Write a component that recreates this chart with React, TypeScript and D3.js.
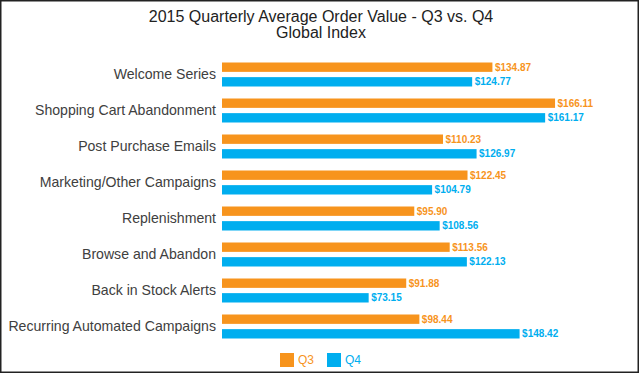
import React from "react";
import * as d3 from "d3";

const categories = [
  "Welcome Series",
  "Shopping Cart Abandonment",
  "Post Purchase Emails",
  "Marketing/Other Campaigns",
  "Replenishment",
  "Browse and Abandon",
  "Back in Stock Alerts",
  "Recurring Automated Campaigns",
];
const q3Values = [134.87, 166.11, 110.23, 122.45, 95.9, 113.56, 91.88, 98.44];
const q4Values = [124.77, 161.17, 126.97, 104.79, 108.56, 122.13, 73.15, 148.42];
const seriesNames = ["Q3", "Q4"];
const seriesColors = ["#F7941D", "#00AEEF"];
const titleLines = ["2015 Quarterly Average Order Value - Q3 vs. Q4", "Global Index"];

const W = 640;
const H = 374;
const FONT = "'Liberation Sans', Arial, Helvetica, sans-serif";

export default function App() {
  const x = d3.scaleLinear().domain([0, 200]).range([222, 623]);
  const y = d3.scaleBand<string>().domain(categories).range([56.5, 344.5]);
  const inner = d3.scaleBand<string>().domain(seriesNames).range([-12, 12]).paddingInner(0.36).paddingOuter(0.0);
  const series = [q3Values, q4Values];
  const fmt = (v: number) => "$" + d3.format(".2f")(v);

  return (
    <svg
      width={W}
      height={H}
      style={{ position: "absolute", left: 0, top: 0, display: "block", background: "#fff" }}
      fontFamily={FONT}
    >
      <rect x={0.75} y={0.75} width={W - 2.5} height={H - 2.5} fill="#fff" stroke="#222" strokeWidth={1.5} />
      {titleLines.map((t, i) => (
        <text key={i} x={321} y={22 + i * 16} textAnchor="middle" fontSize={16} fill="#222">
          {t}
        </text>
      ))}
      {categories.map((c, ci) => {
        const cy = (y(c) as number) + y.bandwidth() / 2;
        return (
          <g key={c}>
            <text x={216} y={cy} dy="0.35em" textAnchor="end" fontSize={14.1} fill="#404040">
              {c}
            </text>
            {series.map((vals, si) => {
              const by = cy + (inner(seriesNames[si]) as number);
              const bh = inner.bandwidth();
              return (
                <g key={si}>
                  <rect x={x(0)} y={by} width={x(vals[ci]) - x(0)} height={bh} fill={seriesColors[si]} />
                  <text
                    x={x(vals[ci]) + 2.5}
                    y={by + bh / 2}
                    dy="0.36em"
                    fontSize={10}
                    fontWeight="bold"
                    fill={seriesColors[si]}
                  >
                    {fmt(vals[ci])}
                  </text>
                </g>
              );
            })}
          </g>
        );
      })}
      {seriesNames.map((s, i) => (
        <g key={s} transform={`translate(${280 + i * 47},353)`}>
          <rect x={0} y={0} width={14} height={14} fill={seriesColors[i]} />
          <text x={18} y={7} dy="0.36em" fontSize={12} fill={seriesColors[i]}>
            {s}
          </text>
        </g>
      ))}
    </svg>
  );
}
